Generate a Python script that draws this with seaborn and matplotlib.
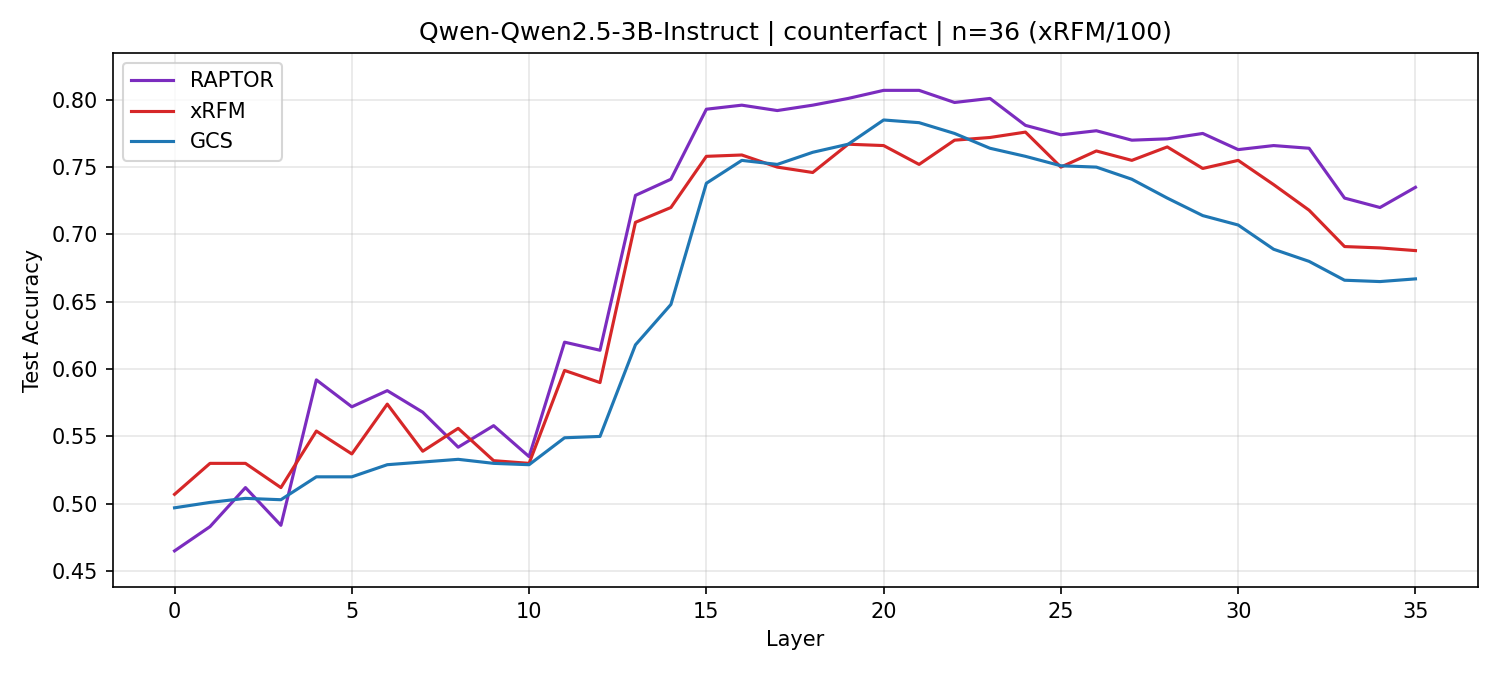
import matplotlib
matplotlib.use("Agg")
import matplotlib.pyplot as plt
import seaborn as sns
import pandas as pd
import numpy as np

layers = list(range(36))
raptor = [0.465, 0.483, 0.512, 0.484, 0.592, 0.572, 0.584, 0.568, 0.542, 0.558,
          0.535, 0.620, 0.614, 0.729, 0.741, 0.793, 0.796, 0.792, 0.796, 0.801,
          0.807, 0.807, 0.798, 0.801, 0.781, 0.774, 0.777, 0.770, 0.771, 0.775,
          0.763, 0.766, 0.764, 0.727, 0.720, 0.735]
xrfm = [0.507, 0.530, 0.530, 0.512, 0.554, 0.537, 0.574, 0.539, 0.556, 0.532,
        0.530, 0.599, 0.590, 0.709, 0.720, 0.758, 0.759, 0.750, 0.746, 0.767,
        0.766, 0.752, 0.770, 0.772, 0.776, 0.750, 0.762, 0.755, 0.765, 0.749,
        0.755, 0.737, 0.718, 0.691, 0.690, 0.688]
gcs = [0.497, 0.501, 0.504, 0.503, 0.520, 0.520, 0.529, 0.531, 0.533, 0.530,
       0.529, 0.549, 0.550, 0.618, 0.648, 0.738, 0.755, 0.752, 0.761, 0.767,
       0.785, 0.783, 0.775, 0.764, 0.758, 0.751, 0.750, 0.741, 0.727, 0.714,
       0.707, 0.689, 0.680, 0.666, 0.665, 0.667]
methods = ["RAPTOR", "xRFM", "GCS"]
colors = {"RAPTOR": "#7b2cbf", "xRFM": "#d62728", "GCS": "#1f77b4"}

df = pd.concat([
    pd.DataFrame({"Layer": layers, "Test Accuracy": raptor, "Method": "RAPTOR"}),
    pd.DataFrame({"Layer": layers, "Test Accuracy": xrfm, "Method": "xRFM"}),
    pd.DataFrame({"Layer": layers, "Test Accuracy": gcs, "Method": "GCS"}),
])

plt.rcParams['font.family'] = ['DejaVu Sans']
fig, ax = plt.subplots(figsize=(10, 4.5), dpi=150)
sns.lineplot(data=df, x="Layer", y="Test Accuracy", hue="Method",
             hue_order=methods, palette=colors, linewidth=1.5, ax=ax)
ax.grid(True, alpha=0.3)
ax.set_xlim(-1.75, 36.75)
ax.set_ylim(0.438, 0.835)
ax.set_xticks([0, 5, 10, 15, 20, 25, 30, 35])
ax.set_title("Qwen-Qwen2.5-3B-Instruct | counterfact | n=36 (xRFM/100)")
ax.set_xlabel("Layer")
ax.set_ylabel("Test Accuracy")
ax.legend(title=None, loc="upper left")
fig.subplots_adjust(left=0.075, right=0.985, top=0.922, bottom=0.13)
fig.savefig("out.png", dpi=150)
